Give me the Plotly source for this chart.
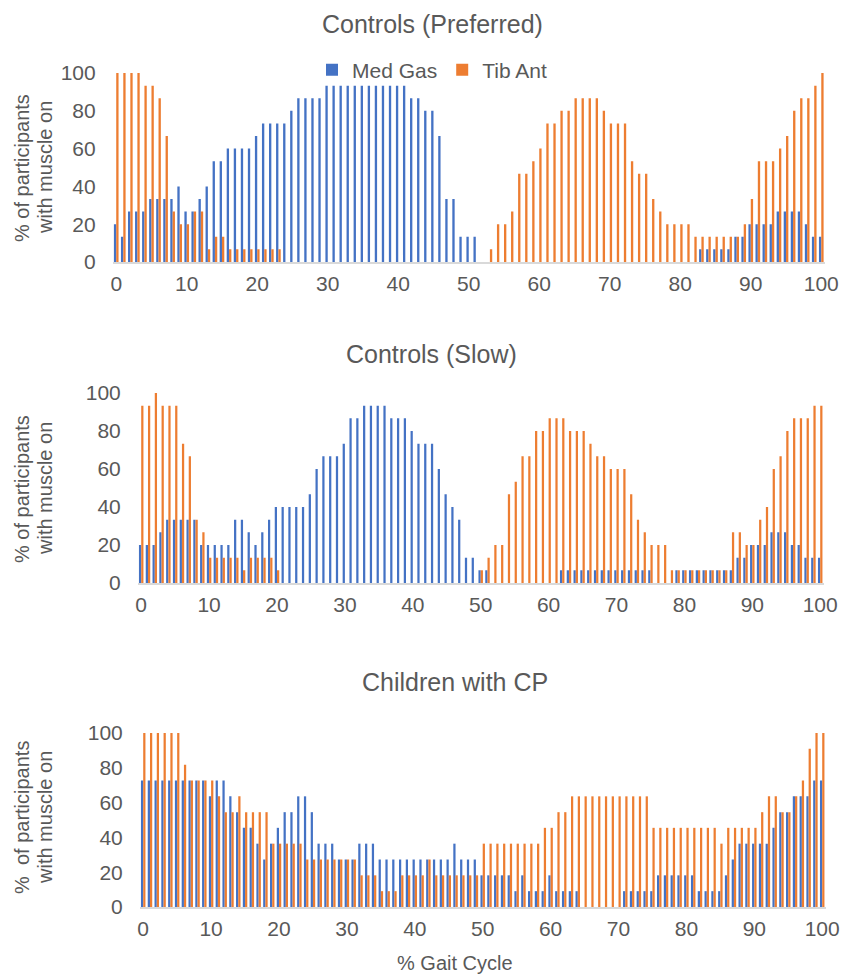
import plotly.graph_objects as go

gait_cycle = list(range(0, 101))
x_ticks = [0, 10, 20, 30, 40, 50, 60, 70, 80, 90, 100]
y_ticks = [0, 20, 40, 60, 80, 100]

panel_titles = ["Controls (Preferred)", "Controls (Slow)", "Children with CP"]
y_titles_line1 = ["% of participants", "% of participants", "%\u00a0 of participants"]
y_titles_line2 = ["with muscle on", "with muscle on", "with muscle on"]
x_title = "% Gait Cycle"
series_names = ["Med Gas", "Tib Ant"]

pref_medgas = [
    20, 13.3, 26.7, 26.7, 26.7, 33.3, 33.3, 33.3, 33.3, 40,
    26.7, 26.7, 33.3, 40, 53.3, 53.3, 60, 60, 60, 60,
    66.7, 73.3, 73.3, 73.3, 73.3, 80, 86.7, 86.7, 86.7, 86.7,
    93.3, 93.3, 93.3, 93.3, 93.3, 93.3, 93.3, 93.3, 93.3, 93.3,
    93.3, 93.3, 86.7, 86.7, 80, 80, 66.7, 33.3, 33.3, 13.3,
    13.3, 13.3, 0, 0, 0, 0, 0, 0, 0, 0,
    0, 0, 0, 0, 0, 0, 0, 0, 0, 0,
    0, 0, 0, 0, 0, 0, 0, 0, 0, 0,
    0, 0, 0, 6.7, 6.7, 6.7, 6.7, 6.7, 13.3, 13.3,
    20, 20, 20, 20, 26.7, 26.7, 26.7, 26.7, 20, 13.3,
    13.3]
pref_tibant = [
    100, 100, 100, 100, 93.3, 93.3, 86.7, 66.7, 26.7, 20,
    20, 26.7, 26.7, 6.7, 13.3, 13.3, 6.7, 6.7, 6.7, 6.7,
    6.7, 6.7, 6.7, 6.7, 0, 0, 0, 0, 0, 0,
    0, 0, 0, 0, 0, 0, 0, 0, 0, 0,
    0, 0, 0, 0, 0, 0, 0, 0, 0, 0,
    0, 0, 0, 6.7, 20, 20, 26.7, 46.7, 46.7, 53.3,
    60, 73.3, 73.3, 80, 80, 86.7, 86.7, 86.7, 86.7, 80,
    73.3, 73.3, 73.3, 53.3, 46.7, 46.7, 33.3, 26.7, 20, 20,
    20, 20, 13.3, 13.3, 13.3, 13.3, 13.3, 13.3, 13.3, 20,
    33.3, 53.3, 53.3, 53.3, 60, 66.7, 80, 86.7, 86.7, 93.3,
    100]

slow_medgas = [
    20, 20, 20, 26.7, 33.3, 33.3, 33.3, 33.3, 33.3, 20,
    20, 20, 20, 20, 33.3, 33.3, 26.7, 20, 26.7, 33.3,
    40, 40, 40, 40, 40, 46.7, 60, 66.7, 66.7, 66.7,
    73.3, 86.7, 86.7, 93.3, 93.3, 93.3, 93.3, 86.7, 86.7, 86.7,
    80, 73.3, 73.3, 73.3, 60, 46.7, 40, 33.3, 13.3, 13.3,
    6.7, 6.7, 0, 0, 0, 0, 0, 0, 0, 0,
    0, 0, 6.7, 6.7, 6.7, 6.7, 6.7, 6.7, 6.7, 6.7,
    6.7, 6.7, 6.7, 6.7, 6.7, 6.7, 0, 0, 0, 6.7,
    6.7, 6.7, 6.7, 6.7, 6.7, 6.7, 6.7, 6.7, 13.3, 13.3,
    20, 20, 20, 26.7, 26.7, 26.7, 20, 20, 13.3, 13.3,
    13.3]
slow_tibant = [
    93.3, 93.3, 100, 93.3, 93.3, 93.3, 73.3, 66.7, 33.3, 26.7,
    13.3, 13.3, 13.3, 13.3, 13.3, 6.7, 13.3, 13.3, 13.3, 13.3,
    6.7, 0, 0, 0, 0, 0, 0, 0, 0, 0,
    0, 0, 0, 0, 0, 0, 0, 0, 0, 0,
    0, 0, 0, 0, 0, 0, 0, 0, 0, 0,
    6.7, 13.3, 20, 20, 46.7, 53.3, 66.7, 66.7, 80, 80,
    86.7, 86.7, 86.7, 80, 80, 80, 73.3, 66.7, 66.7, 60,
    60, 60, 46.7, 33.3, 26.7, 20, 20, 20, 6.7, 6.7,
    6.7, 6.7, 6.7, 6.7, 6.7, 6.7, 6.7, 26.7, 26.7, 20,
    20, 33.3, 40, 60, 66.7, 80, 86.7, 86.7, 86.7, 93.3,
    93.3]

cp_medgas = [
    72.7, 72.7, 72.7, 72.7, 72.7, 72.7, 72.7, 72.7, 72.7, 72.7,
    63.6, 72.7, 72.7, 63.6, 54.5, 45.5, 45.5, 36.4, 27.3, 36.4,
    45.5, 54.5, 54.5, 63.6, 63.6, 54.5, 36.4, 36.4, 36.4, 27.3,
    27.3, 27.3, 36.4, 36.4, 36.4, 27.3, 27.3, 27.3, 27.3, 27.3,
    27.3, 27.3, 27.3, 27.3, 27.3, 27.3, 36.4, 27.3, 27.3, 27.3,
    18.2, 18.2, 18.2, 18.2, 18.2, 9.1, 18.2, 9.1, 9.1, 9.1,
    18.2, 9.1, 9.1, 9.1, 9.1, 0, 0, 0, 0, 0,
    0, 9.1, 9.1, 9.1, 9.1, 9.1, 18.2, 18.2, 18.2, 18.2,
    18.2, 18.2, 9.1, 9.1, 9.1, 9.1, 18.2, 27.3, 36.4, 36.4,
    36.4, 36.4, 36.4, 45.5, 54.5, 54.5, 63.6, 63.6, 63.6, 72.7,
    72.7]
cp_tibant = [
    100, 100, 100, 100, 100, 100, 81.8, 72.7, 72.7, 72.7,
    72.7, 63.6, 54.5, 54.5, 63.6, 54.5, 54.5, 54.5, 54.5, 36.4,
    36.4, 36.4, 36.4, 36.4, 27.3, 27.3, 27.3, 27.3, 27.3, 27.3,
    27.3, 27.3, 18.2, 18.2, 18.2, 9.1, 9.1, 9.1, 18.2, 18.2,
    18.2, 18.2, 27.3, 18.2, 18.2, 18.2, 18.2, 18.2, 18.2, 18.2,
    36.4, 36.4, 36.4, 36.4, 36.4, 36.4, 36.4, 36.4, 36.4, 45.5,
    45.5, 54.5, 54.5, 63.6, 63.6, 63.6, 63.6, 63.6, 63.6, 63.6,
    63.6, 63.6, 63.6, 63.6, 63.6, 45.5, 45.5, 45.5, 45.5, 45.5,
    45.5, 45.5, 45.5, 45.5, 45.5, 36.4, 45.5, 45.5, 45.5, 45.5,
    45.5, 54.5, 63.6, 63.6, 54.5, 54.5, 63.6, 72.7, 90.9, 100,
    100]

BLUE = "#4472C4"
ORANGE = "#ED7D31"
TXT = "#595959"
FONT = "Liberation Sans, Arial, Helvetica, sans-serif"
W, H = 841, 975

panels = [
    (pref_medgas, pref_tibant),
    (slow_medgas, slow_tibant),
    (cp_medgas, cp_tibant),
]
# plot areas in pixels: (left, right, top, bottom)
areas = [(112.7, 824.8, 73, 262), (137.8, 823.6, 393, 583), (139.8, 825.6, 733, 907)]
title_pos = [(432, 24), (431, 354), (455, 682)]
ytitle_y = [168, 489, 818]
ytitle_x = (22, 45)

fig = go.Figure()
for i, (mg, ta) in enumerate(panels):
    sfx = "" if i == 0 else str(i + 1)
    fig.add_trace(go.Bar(x=gait_cycle, y=mg, name=series_names[0], marker_color=BLUE,
                         marker_line_width=0, xaxis="x" + sfx, yaxis="y" + sfx,
                         offsetgroup="a", showlegend=(i == 0), legendgroup="mg"))
    fig.add_trace(go.Bar(x=gait_cycle, y=ta, name=series_names[1], marker_color=ORANGE,
                         marker_line_width=0, xaxis="x" + sfx, yaxis="y" + sfx,
                         offsetgroup="b", showlegend=(i == 0), legendgroup="ta"))

layout = dict(
    width=W, height=H, margin=dict(l=0, r=0, t=0, b=0, pad=0, autoexpand=False),
    paper_bgcolor="white", plot_bgcolor="white", template="none",
    barmode="group", bargap=0.34, bargroupgap=0,
    font=dict(family=FONT, color=TXT, size=21),
    legend=dict(orientation="h", x=432 / W, xanchor="center", y=1 - 70 / H, yanchor="middle",
                font=dict(size=21, color=TXT), bgcolor="rgba(0,0,0,0)", itemwidth=30,
                traceorder="normal"),
    annotations=[],
)
for i, (l, r, t, b) in enumerate(areas):
    sfx = "" if i == 0 else str(i + 1)
    layout["xaxis" + sfx] = dict(
        domain=[l / W, r / W], range=[-0.5, 100.5], anchor="y" + sfx, automargin=False,
        tickmode="array", tickvals=x_ticks, ticks="", showgrid=False, zeroline=False,
        showline=True, linecolor="#D9D9D9", linewidth=2,
        tickfont=dict(size=21, color=TXT), ticklabelstandoff=2,
    )
    layout["yaxis" + sfx] = dict(
        domain=[1 - b / H, 1 - t / H], range=[0, 100], anchor="x" + sfx, automargin=False,
        tickmode="array", tickvals=y_ticks, ticks="", showgrid=False, zeroline=False,
        showline=False, tickfont=dict(size=21, color=TXT), ticklabelstandoff=16,
    )
    tx, ty = title_pos[i]
    layout["annotations"].append(dict(
        text=panel_titles[i], x=tx / W, y=1 - ty / H, xref="paper", yref="paper",
        xanchor="center", yanchor="middle", showarrow=False,
        font=dict(size=25, color=TXT, family=FONT)))
    for j, txt in enumerate((y_titles_line1[i], y_titles_line2[i])):
        layout["annotations"].append(dict(
            text=txt, x=ytitle_x[j] / W, y=1 - ytitle_y[i] / H, xref="paper", yref="paper",
            xanchor="center", yanchor="middle", showarrow=False, textangle=-90,
            font=dict(size=20, color=TXT, family=FONT)))

layout["annotations"].append(dict(
    text=x_title, x=455 / W, y=1 - 963 / H, xref="paper", yref="paper",
    xanchor="center", yanchor="middle", showarrow=False,
    font=dict(size=20, color=TXT, family=FONT)))

fig.update_layout(**layout)
fig.write_html(
    "out.html",
    config={"displayModeBar": False},
    post_script="document.body.style.margin='0';document.body.style.padding='0';"
                "document.body.style.overflow='hidden';",
)
